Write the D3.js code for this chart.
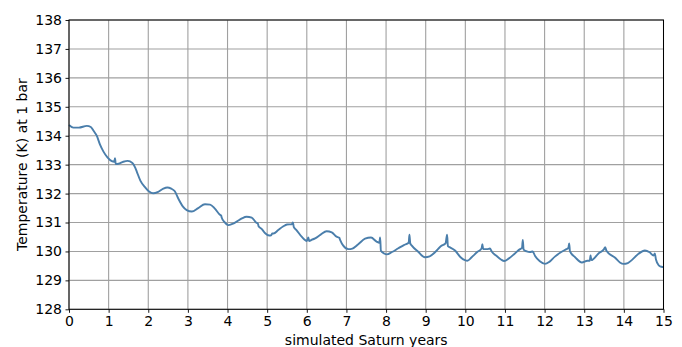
<!DOCTYPE html>
<html>
<head>
<meta charset="utf-8">
<script src="https://cdn.jsdelivr.net/npm/d3@7"></script>
<style>
  html, body { margin: 0; padding: 0; background: #fff; }
  svg { display: block; font-family: "DejaVu Sans", sans-serif; }
</style>
</head>
<body>
<svg id="chart" width="682" height="347"></svg>
<script>
// Simulated 1-bar temperature over 15 Saturn years
const years = [
  0.00, 0.11, 0.25, 0.45, 0.55, 0.62, 0.70, 0.78, 0.87, 0.97,
  1.08, 1.14, 1.16, 1.18, 1.25, 1.37, 1.48, 1.60, 1.67, 1.71,
  1.80, 1.92, 2.03, 2.12, 2.25, 2.38, 2.48, 2.58, 2.67, 2.76,
  2.87, 2.97, 3.10, 3.26, 3.43, 3.56, 3.68, 3.80, 3.84, 3.85,
  3.92, 4.02, 4.12, 4.23, 4.36, 4.48, 4.61, 4.72, 4.77, 4.78,
  4.86, 4.95, 5.05, 5.10, 5.13, 5.16, 5.28, 5.40, 5.50, 5.62,
  5.65, 5.67, 5.74, 5.87, 6.00, 6.04, 6.06, 6.12, 6.21, 6.35,
  6.50, 6.63, 6.75, 6.82, 6.84, 6.92, 7.05, 7.15, 7.30, 7.47,
  7.62, 7.76, 7.83, 7.85, 7.87, 7.95, 8.02, 8.15, 8.31, 8.45,
  8.57, 8.59, 8.61, 8.65, 8.81, 8.98, 9.10, 9.24, 9.38, 9.50,
  9.54, 9.56, 9.60, 9.74, 9.88, 9.99, 10.05, 10.16, 10.30, 10.41,
  10.43, 10.45, 10.55, 10.62, 10.67, 10.79, 10.90, 10.98, 11.10, 11.25,
  11.38, 11.43, 11.45, 11.47, 11.55, 11.63, 11.70, 11.76, 11.88, 12.01,
  12.12, 12.26, 12.42, 12.55, 12.60, 12.62, 12.64, 12.77, 12.94, 13.08,
  13.14, 13.16, 13.18, 13.36, 13.50, 13.53, 13.56, 13.78, 13.90, 13.99,
  14.10, 14.20, 14.37, 14.53, 14.65, 14.75, 14.78, 14.81, 14.88, 14.95,
  15.00
];
const temps = [
  134.37, 134.28, 134.28, 134.34, 134.30, 134.17, 134.00, 133.70, 133.45, 133.25,
  133.12, 133.10, 133.22, 133.02, 133.03, 133.10, 133.13, 133.06, 132.90, 132.76,
  132.45, 132.22, 132.06, 132.01, 132.06, 132.17, 132.21, 132.17, 132.08, 131.82,
  131.56, 131.43, 131.38, 131.50, 131.63, 131.62, 131.48, 131.28, 131.24, 131.18,
  131.02, 130.91, 130.95, 131.03, 131.14, 131.20, 131.17, 131.00, 130.95, 130.88,
  130.78, 130.63, 130.55, 130.56, 130.62, 130.62, 130.74, 130.86, 130.93, 130.94,
  131.00, 130.85, 130.74, 130.51, 130.36, 130.48, 130.36, 130.40, 130.45, 130.58,
  130.70, 130.66, 130.51, 130.47, 130.40, 130.20, 130.08, 130.10, 130.25, 130.44,
  130.48, 130.34, 130.30, 130.48, 130.02, 129.93, 129.90, 129.98, 130.11, 130.22,
  130.30, 130.58, 130.28, 130.20, 129.99, 129.80, 129.83, 129.98, 130.18, 130.28,
  130.58, 130.18, 130.15, 130.03, 129.80, 129.70, 129.68, 129.80, 129.98, 130.10,
  130.25, 130.08, 130.08, 130.10, 129.99, 129.84, 129.72, 129.67, 129.76, 129.93,
  130.08, 130.12, 130.40, 130.06, 130.00, 129.98, 130.00, 129.84, 129.66, 129.57,
  129.64, 129.82, 129.98, 130.08, 130.12, 130.28, 130.00, 129.80, 129.62, 129.68,
  129.68, 129.86, 129.70, 129.93, 130.08, 130.15, 130.02, 129.78, 129.62, 129.57,
  129.60, 129.70, 129.92, 130.03, 129.97, 129.86, 129.93, 129.72, 129.52, 129.47,
  129.46
];
const xTicks = d3.range(0, 16, 1);
const yTicks = d3.range(128, 139, 1);
const xLabel = "simulated Saturn years";
const yLabel = "Temperature (K) at 1 bar";

const svg = d3.select("#chart");
const margin = { top: 20, right: 18.5, bottom: 37.7, left: 69 };
const W = 682, H = 347;
const iw = W - margin.left - margin.right;
const ih = H - margin.top - margin.bottom;

const x = d3.scaleLinear().domain([0, 15]).range([0, iw]);
const y = d3.scaleLinear().domain([128, 138]).range([ih, 0]);

const g = svg.append("g").attr("transform", `translate(${margin.left},${margin.top})`);

// grid
g.append("g").selectAll("line").data(xTicks).join("line")
  .attr("x1", d => x(d)).attr("x2", d => x(d))
  .attr("y1", 0).attr("y2", ih)
  .attr("stroke", "#a0a0a0").attr("stroke-width", 1.1);
g.append("g").selectAll("line").data(yTicks).join("line")
  .attr("y1", d => y(d)).attr("y2", d => y(d))
  .attr("x1", 0).attr("x2", iw)
  .attr("stroke", "#a0a0a0").attr("stroke-width", 1.1);

// temperature curve
const pts = years.map((yr, i) => [yr, temps[i]]);
g.append("path")
  .datum(pts)
  .attr("fill", "none")
  .attr("stroke", "#4a7eab")
  .attr("stroke-width", 1.9)
  .attr("stroke-linejoin", "round")
  .attr("d", d3.line().x(d => x(d[0])).y(d => y(d[1])).curve(d3.curveMonotoneX));

// axes
const xAxis = d3.axisBottom(x).tickValues(xTicks).tickFormat(d3.format("d")).tickSize(3.5).tickPadding(3.5);
const yAxis = d3.axisLeft(y).tickValues(yTicks).tickFormat(d3.format("d")).tickSize(3.5).tickPadding(3.5);

const gx = g.append("g").attr("transform", `translate(0,${ih})`).call(xAxis);
const gy = g.append("g").call(yAxis);
[gx, gy].forEach(a => {
  a.select(".domain").remove();
  a.selectAll("line").attr("stroke", "#000").attr("stroke-width", 0.9);
  a.selectAll("text").attr("fill", "#000").style("font-size", "14px").style("font-family", "DejaVu Sans, sans-serif");
});

// frame
g.append("rect").attr("x", 0).attr("y", 0).attr("width", iw).attr("height", ih)
  .attr("fill", "none").attr("stroke", "#000").attr("stroke-width", 1);

// labels
svg.append("text")
  .attr("x", margin.left + iw / 2).attr("y", 344.5)
  .attr("text-anchor", "middle").style("font-size", "14px")
  .text(xLabel);
svg.append("text")
  .attr("transform", `translate(27,${margin.top + ih / 2}) rotate(-90)`)
  .attr("text-anchor", "middle").style("font-size", "14px")
  .text(yLabel);
</script>
</body>
</html>
